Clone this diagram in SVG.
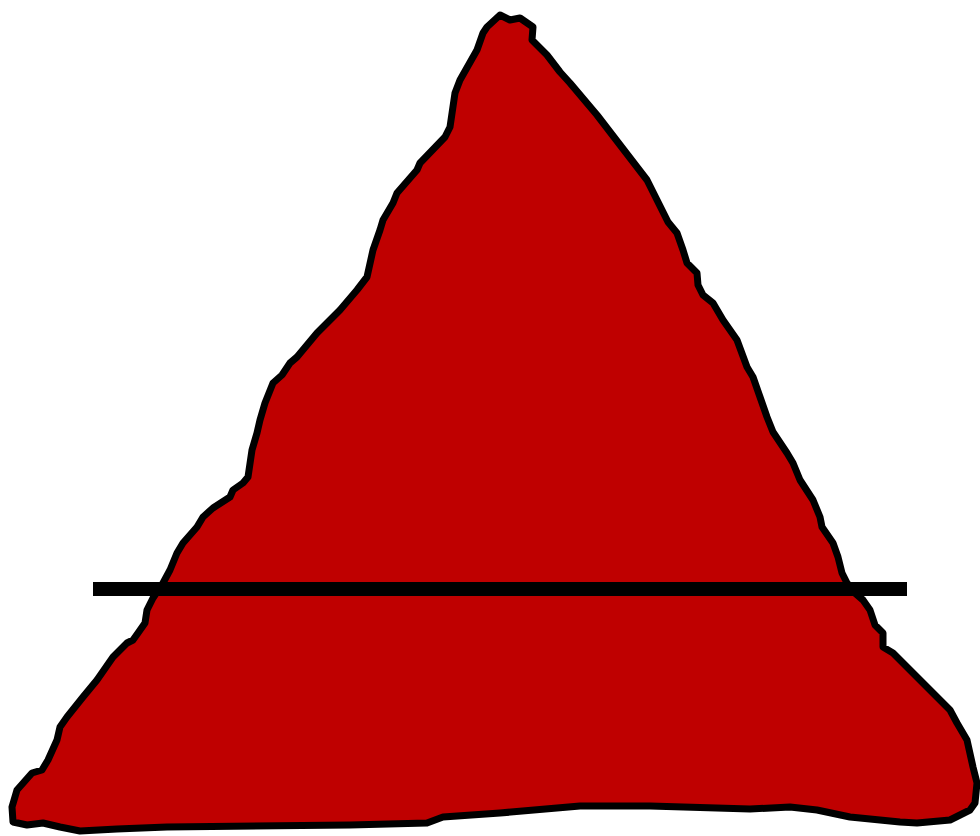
<svg xmlns="http://www.w3.org/2000/svg" width="980" height="836" viewBox="0 0 980 836">
<style>
.shape{fill:#bf0000;stroke:#000;stroke-width:7;stroke-linejoin:round;stroke-linecap:round}
.bar{stroke:#000;stroke-width:14;fill:none}
</style>
<rect width="980" height="836" fill="#fff"/>
<g id="triangle">
<path class="shape" d="M500,15 L510,20 L520,18 L533,27 L532,40 L547,55 L560,72 L570,83 L597,115 L637,167 L647,180 L657,200 L668,222 L677,233 L683,250 L687,263 L697,273 L698,285 L703,295 L713,303 L723,320 L737,340 L747,367 L753,377 L767,417 L773,432 L787,453 L793,463 L800,480 L813,500 L820,517 L822,527 L833,543 L838,557 L842,573 L847,583 L855,593 L863,600 L870,610 L875,625 L883,633 L883,647 L893,653 L910,670 L937,697 L950,710 L957,723 L967,740 L973,767 L977,783 L975,803 L970,810 L950,820 L917,823 L900,822 L850,817 L817,810 L790,807 L750,809 L650,806 L580,806 L500,813 L443,817 L427,823 L350,825 L167,827 L117,829 L80,831 L60,827 L43,823 L27,825 L13,822 L12,807 L17,790 L32,773 L42,770 L48,760 L57,740 L60,727 L67,717 L83,697 L97,680 L113,657 L127,643 L133,640 L138,633 L145,623 L147,610 L153,598 L163,583 L170,570 L177,553 L183,543 L197,527 L203,517 L213,508 L230,497 L233,490 L243,483 L248,477 L252,450 L257,433 L260,420 L265,403 L273,383 L282,375 L290,363 L297,357 L317,333 L327,323 L340,310 L357,290 L367,277 L373,250 L380,230 L383,220 L393,203 L397,193 L417,170 L420,163 L445,137 L450,127 L455,93 L460,80 L477,50 L483,33 L487,27 Z"/>
</g>
<g id="line">
<line class="bar" x1="93" y1="589" x2="907" y2="589"/>
</g>
</svg>
